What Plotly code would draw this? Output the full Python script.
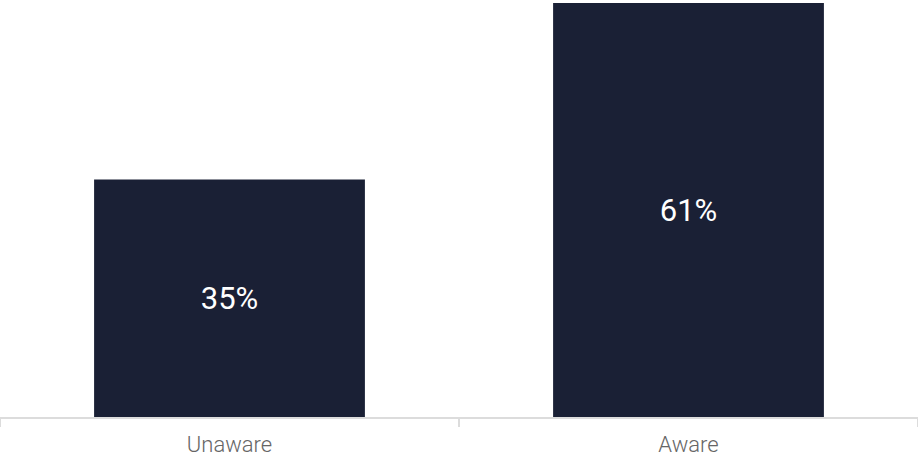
import plotly.graph_objects as go

categories = ["Unaware", "Aware"]
values = [35, 61]
labels = ["35%", "61%"]

bar_color = "#1a2035"
axis_color = "#dcdcdc"

fig = go.Figure(
    go.Bar(
        x=categories,
        y=values,
        text=labels,
        textposition="inside",
        insidetextanchor="middle",
        textangle=0,
        textfont=dict(family="Roboto", size=31, color="#ffffff"),
        marker=dict(color=bar_color, line=dict(width=0)),
        hoverinfo="skip",
    )
)

fig.update_layout(
    width=918,
    height=460,
    margin=dict(l=0, r=0, t=0, b=43),
    paper_bgcolor="#ffffff",
    plot_bgcolor="#ffffff",
    bargap=0.41,
    showlegend=False,
    uniformtext=dict(mode=False),
)

fig.update_xaxes(
    automargin=False,
    showline=True,
    linecolor=axis_color,
    linewidth=2,
    ticks="outside",
    tickson="boundaries",
    ticklen=8,
    tickwidth=2,
    tickcolor=axis_color,
    showgrid=False,
    ticklabelstandoff=7,
    tickfont=dict(family="Roboto", size=22, color="#666666", weight=300),
)

fig.update_yaxes(
    automargin=False,
    range=[0, 61.45],
    visible=False,
    showgrid=False,
    zeroline=False,
)

fig.write_html(
    "out.html",
    config={"displayModeBar": False},
    post_script="document.body.style.margin='0';document.body.style.padding='0';document.body.style.overflow='hidden';",
)
